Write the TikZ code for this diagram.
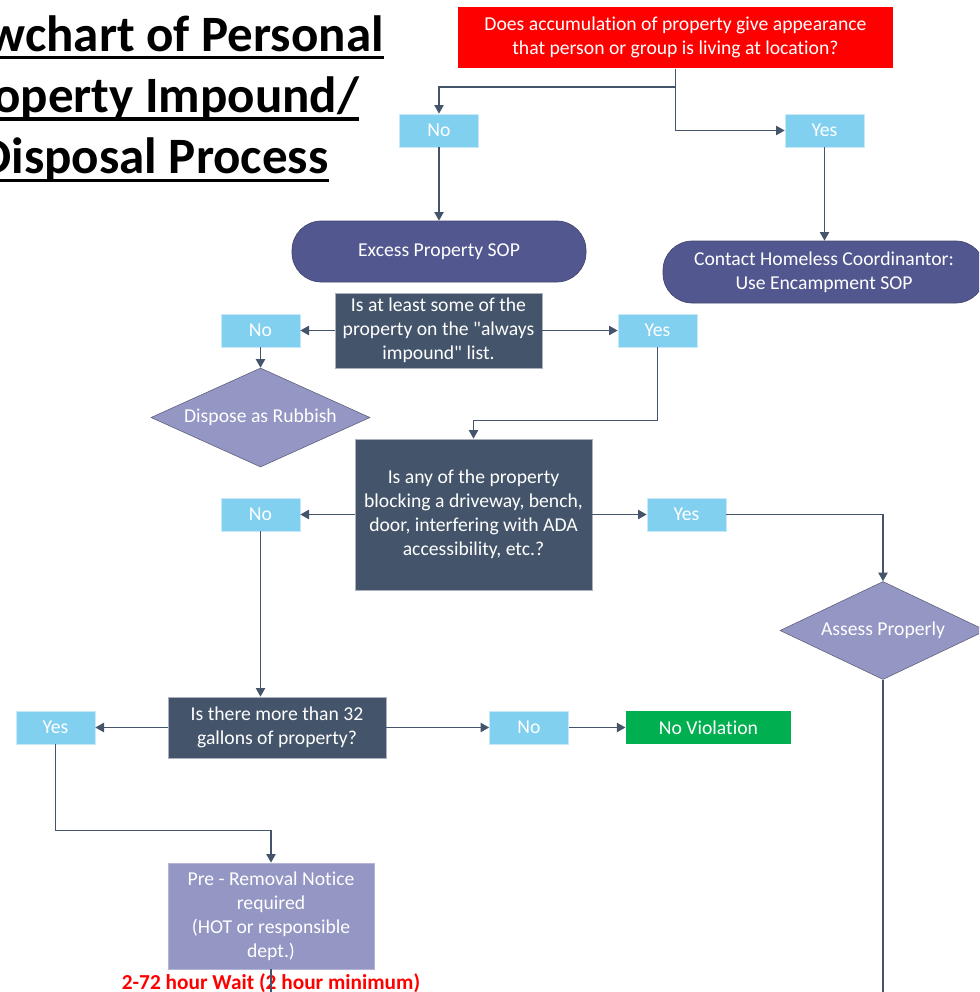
\documentclass[tikz,border=0pt]{standalone}
\usepackage{fontspec}
\setmainfont{Carlito}[Ligatures={TeXOff,NoCommon}]
\usetikzlibrary{arrows.meta,shapes.geometric}

\definecolor{qred}{RGB}{255,0,0}
\definecolor{ansblue}{RGB}{130,208,240}
\definecolor{slate}{RGB}{68,84,106}
\definecolor{sopnavy}{RGB}{82,88,143}
\definecolor{lavender}{RGB}{148,150,196}
\definecolor{okgreen}{RGB}{0,176,80}

% underlined title line, rule at a fixed depth
\newcommand\ttlline[1]{\setbox0\hbox{#1}\rlap{\rule[-6pt]{\wd0}{2.4pt}}\box0}

\tikzset{every picture/.style={line width=0.75pt}}
\tikzset{
  txt/.style={font=\fontsize{14.75}{18}\selectfont, text=white, align=center, inner sep=0pt},
  qbox/.style={txt, rectangle, fill=slate, draw=slate!45, line width=0.5pt},
  ansbox/.style={txt, rectangle, fill=ansblue, draw=ansblue!45, line width=0.5pt, minimum width=59.25pt, minimum height=24.75pt},
  sopbox/.style={txt, rectangle, rounded corners=22pt, fill=sopnavy, draw=sopnavy!80!black, line width=0.5pt},
  actdia/.style={txt, diamond, aspect=2.2, fill=lavender, draw=lavender!60!black, line width=0.4pt},
  link/.style={draw=slate, line width=1.1pt},
  arr/.style={link, -{Triangle[length=6.5pt,width=7pt]}},
}

\begin{document}
\begin{tikzpicture}[x=0.75pt,y=0.75pt,yscale=-1,xscale=1]
        \clip (0,0) rectangle (979,992);

        % Title
        \node [font=\bfseries\fontsize{38.25}{46}\selectfont, align=center, inner sep=0pt, anchor=north] (title) at (154,15) {\ttlline{Flowchart of Personal}\\\ttlline{Property Impound/}\\\ttlline{Disposal Process}};

        % First question
        \node [txt, fill=qred, minimum width=326.25pt, minimum height=45.75pt] (q1) at (675.5,37.5) {Does accumulation of property give appearance\\that person or group is living at location?};
        \node [ansbox] (no1) at (439,130.5) {No};
        \node [ansbox] (yes1) at (824.5,130.5) {Yes};
        \node [sopbox, minimum width=220.5pt, minimum height=45.75pt] (sop1) at (439,251.5) {Excess Property SOP};
        \node [sopbox, minimum width=241.5pt, minimum height=46.5pt] (sop2) at (824,272) {Contact Homeless Coordinantor:\\Use Encampment SOP};

        % Always impound list
        \node [qbox, minimum width=155.25pt, minimum height=56.25pt] (q2) at (438.5,330.5) {Is at least some of the\\property on the "always\\impound" list.};
        \node [ansbox] (no2) at (260.5,330.5) {No};
        \node [ansbox] (yes2) at (657.5,330.5) {Yes};
        \node [actdia, minimum width=164.25pt, minimum height=74.25pt] (rub) at (260.5,417.5) {Dispose as Rubbish};

        % Blocking question
        \node [qbox, minimum width=177.75pt, minimum height=113.25pt] (q3) at (473.5,514.5) {Is any of the property\\blocking a driveway, bench,\\door, interfering with ADA\\accessibility, etc.?};
        \node [ansbox] (no3) at (260.5,514.5) {No};
        \node [ansbox] (yes3) at (686.5,514.5) {Yes};
        \node [actdia, minimum width=154.5pt, minimum height=73.5pt] (assess) at (883,630.5) {Assess Properly};

        % Gallons question
        \node [qbox, minimum width=163.5pt, minimum height=45.75pt] (q4) at (277,727.5) {Is there more than 32\\gallons of property?};
        \node [ansbox] (yes4) at (55.5,727.5) {Yes};
        \node [ansbox] (no4) at (529,727.5) {No};
        \node [txt, fill=okgreen, minimum width=123.75pt, minimum height=24.75pt] (noviol) at (708.5,727.5) {No Violation};
        \node [txt, fill=lavender, draw=lavender!70, line width=0.5pt, minimum width=154.5pt, minimum height=79.5pt] (notice) at (271,916) {Pre - Removal Notice\\required\\(HOT or responsible\\dept.)};

        % Text Node
        \node [font=\bfseries\fontsize{16}{19}\selectfont, text=qred, inner sep=0pt, anchor=base] (wait) at (271,989) {2-72 hour Wait (2 hour minimum)};

        % Connectors
        \coordinate (split) at (675.5,87);
        \coordinate (assessend) at (883,995);
        \coordinate (noticeend) at (271,995);
        \draw [arr] (q1.south) -- (split) -| (no1.north);
        \draw [arr] (split) |- (yes1.west);
        \draw [arr] (no1) -- (sop1);
        \draw [arr] (yes1.south) -- (yes1.south |- sop2.north);
        \draw [arr] (q2) -- (no2);
        \draw [arr] (q2) -- (yes2);
        \draw [arr] (no2) -- (rub);
        \draw [arr] (yes2.south) -- ++(0,73) -| (q3.north);
        \draw [arr] (q3) -- (no3);
        \draw [arr] (q3) -- (yes3);
        \draw [arr] (yes3.east) -| (assess.north);
        \draw [link] (assess.south) -- (assessend);
        \draw [arr] (no3.south) -- (no3.south |- q4.north);
        \draw [arr] (q4) -- (yes4);
        \draw [arr] (q4) -- (no4);
        \draw [arr] (no4) -- (noviol);
        \draw [arr] (yes4.south) -- ++(0,86) -| (notice.north);
        \draw [link] (notice.south) -- (noticeend);

    \end{tikzpicture}
\end{document}
